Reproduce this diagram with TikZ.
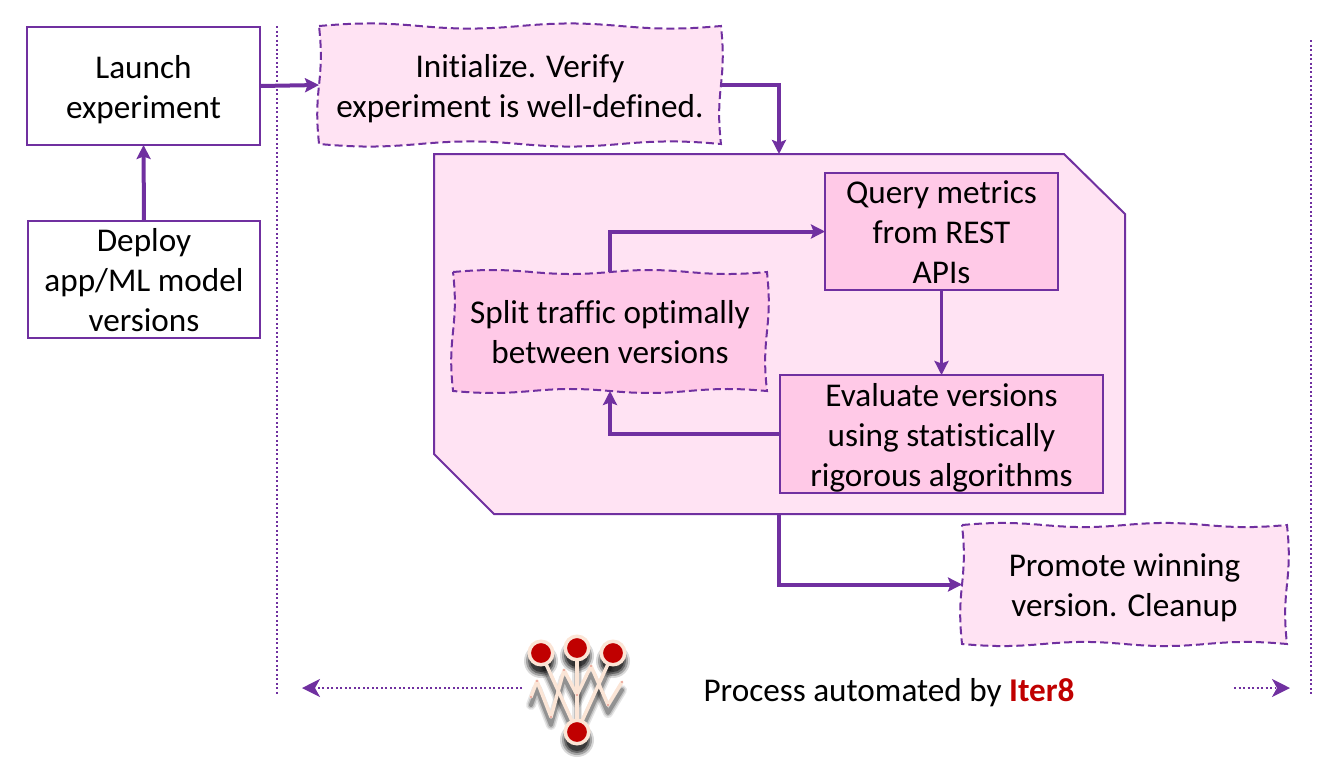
\documentclass[tikz,border=0pt]{standalone}
\usepackage{fontspec}
\setmainfont[Ligatures=NoCommon]{Carlito}
\usetikzlibrary{arrows.meta,calc,backgrounds}
\definecolor{iterpurple}{HTML}{7030A0}
\definecolor{iterred}{HTML}{C00000}
\definecolor{lightpink}{HTML}{FFE3F3}
\definecolor{deeppink}{HTML}{FFC9E7}
\definecolor{peach}{HTML}{FBE5D6}
% struts for the first and the last line of a node
\newcommand{\topline}{\rule{0pt}{17.6pt}}
\newcommand{\lastline}{\rule[-3.6pt]{0pt}{3.6pt}}
\tikzset{
	textbox/.style={align=center,inner sep=0pt,outer sep=0pt,font=\fontsize{18.9}{22.7}\selectfont},
	plainbox/.style={textbox,draw=iterpurple,line width=0.04cm,fill=white,minimum width=4.66cm,minimum height=2.36cm},
	deepbox/.style={textbox,draw=iterpurple,line width=0.04cm,fill=deeppink},
	wavybox/.style={textbox},
	wavyline/.style={draw=iterpurple,line width=0.04cm,dash pattern=on 0.16cm off 0.08cm},
	flow/.style={-{Stealth[length=0.28cm,width=0.28cm,inset=0.05cm]},line width=0.08cm,iterpurple},
	limit/.style={line width=0.04cm,iterpurple,dash pattern=on 0.04cm off 0.05cm},
	auto arrow/.style={-{Stealth[length=0.36cm,width=0.36cm,inset=0.1cm]},line width=0.04cm,iterpurple,dash pattern=on 0.04cm off 0.05cm},
	pin/.style={circle,fill=iterred,draw=peach,line width=0.07cm,minimum size=0.47cm,inner sep=0pt,outer sep=0pt},
}
% wavy outline behind a node: node name, fill colour
\newcommand{\wavyshape}[2]{
	\begin{pgfonlayer}{background}
		\draw[wavyline,fill=#2] (#1.north west)
			to[out=5,in=175] ($(#1.north west)!.25!(#1.north east)$)
			to[out=-5,in=185] ($(#1.north west)!.5!(#1.north east)$)
			to[out=5,in=175] ($(#1.north west)!.75!(#1.north east)$)
			to[out=-5,in=185] (#1.north east)
			to[out=-84,in=84] ($(#1.north east)!.5!(#1.south east)$)
			to[out=-96,in=96] (#1.south east)
			to[out=175,in=5] ($(#1.south east)!.25!(#1.south west)$)
			to[out=185,in=-5] ($(#1.south east)!.5!(#1.south west)$)
			to[out=175,in=5] ($(#1.south east)!.75!(#1.south west)$)
			to[out=185,in=-5] (#1.south west)
			to[out=96,in=264] ($(#1.south west)!.5!(#1.north west)$)
			to[out=84,in=276] (#1.north west);
	\end{pgfonlayer}
}
\begin{document}
\begin{tikzpicture}[x=0.02cm,y=-0.02cm]
	\useasboundingbox (0,0) rectangle (1333,772);
	% limits of the automated part
	\coordinate (limitatop) at (277,26);
	\coordinate (limitabot) at (277,695);
	\coordinate (limitbtop) at (1311,40);
	\coordinate (limitbbot) at (1311,695);
	\draw[limit] (limitatop) -- (limitabot);
	\draw[limit] (limitbtop) -- (limitbbot);

	\node[plainbox] (launch) at (143.5,86) {\topline Launch\\experiment\lastline};
	\node[plainbox] (deploy) at (144,279.5) {\topline Deploy\\app/ML model\\versions\lastline};
	\node[wavybox,minimum width=8.04cm,minimum height=2.36cm] (init) at (520,85) {\topline Initialize. Verify\\experiment is well-defined.\lastline};

	% panel with two cut corners
	\begin{pgfonlayer}{background}
		\draw[line width=0.04cm,draw=iterpurple,fill=lightpink] (434,154) -- (1064,154) -- (1125,214) -- (1125,514) -- (494,514) -- (434,454) -- cycle;
	\end{pgfonlayer}
	\coordinate (panelin) at (779,154);
	\coordinate (panelout) at (779,514);

	\node[deepbox,minimum width=4.66cm,minimum height=2.34cm] (query) at (941.5,231.5) {\topline Query metrics\\from REST\\APIs\lastline};
	\node[deepbox,minimum width=6.46cm,minimum height=2.36cm] (eval) at (941.5,434) {\topline Evaluate versions\\using statistically\\rigorous algorithms\lastline};
	\node[wavybox,minimum width=6.28cm,minimum height=2.38cm] (split) at (610,331.5) {\topline Split traffic optimally\\between versions\lastline};
	\node[wavybox,minimum width=6.5cm,minimum height=2.38cm] (promote) at (1124.5,584.5) {\topline Promote winning\\version. Cleanup\lastline};
	\wavyshape{init}{lightpink}
	\wavyshape{split}{deeppink}
	\wavyshape{promote}{lightpink}

	\draw[flow] (deploy.north) -- (launch.south);
	\draw[flow] (launch.east) -- (init.west);
	\draw[flow] (init.east) -| (panelin);
	\draw[flow,line width=0.06cm] (query.south) -- (eval.north);
	\draw[flow] (eval.west) -| (split.south);
	\draw[flow] (split.north) |- (query.west);
	\draw[flow] (panelout) |- (promote.west);

	% logo
	\foreach \wd/\op in {0.2cm/.1,0.14cm/.15,0.08cm/.25}{
		\begin{scope}[shift={(0,8)},black,opacity=\op,line width=\wd,line cap=round,line join=round]
			\draw (531,697) -- (537,681) -- (551,717) -- (564,670) -- (577,695) -- (591,666) -- (608,705) -- (622,682);
			\draw (541,653) -- (577,732) -- (613,653);
			\draw (577,648) -- (577,732);
		\end{scope}
	}
	\foreach \rd/\op in {17/.15,15/.25,13/.35,11/.45}{
		\foreach \px/\py in {541/653,577/648,613/653,577/732}
			\fill[black,opacity=\op] (\px,\py+8) circle (\rd);
	}
	\node[pin] (pina) at (541,653) {};
	\node[pin] (pinb) at (577,648) {};
	\node[pin] (pinc) at (613,653) {};
	\node[pin] (pind) at (577,732) {};
	\draw[peach,line width=0.07cm] (pina) -- (pind);
	\draw[peach,line width=0.07cm] (pinb) -- (pind);
	\draw[peach,line width=0.07cm] (pinc) -- (pind);
	\draw[peach,line width=0.07cm,line cap=round,line join=round] (531,697) -- (537,681) -- (551,717) -- (564,670) -- (577,695) -- (591,666) -- (608,705) -- (622,682);
	\foreach \px/\py in {531/697,537/681,551/717,564/670,577/695,591/666,608/705,622/682}
		\fill[iterred] (\px,\py) circle (0.6);

	\node[textbox] (auto) at (889,689.5) {\topline Process automated by \textcolor{iterred}{\textbf{Iter8}}\lastline};
	\coordinate (logoleft) at (522,688);
	\coordinate (arrowleft) at (302,688);
	\coordinate (autoright) at (1234,688);
	\coordinate (arrowright) at (1290,688);
	\draw[auto arrow] (logoleft) -- (arrowleft);
	\draw[auto arrow] (autoright) -- (arrowright);
\end{tikzpicture}
\end{document}
